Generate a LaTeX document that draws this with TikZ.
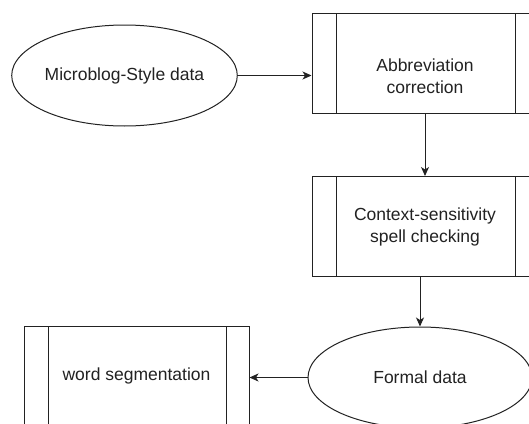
\documentclass[tikz,border=0pt]{standalone}
\usepackage{fontspec}
\setmainfont{Liberation Sans}
\usetikzlibrary{arrows.meta,shapes.geometric,calc}
\definecolor{ink}{HTML}{222222}
\tikzset{
  boxfont/.style={text=ink, font=\fontsize{17.5}{22}\selectfont, align=center},
  procbox/.style={draw=ink, line width=1pt, fill=white, minimum width=#1,
    minimum height=100pt, inner sep=0pt, boxfont,
    path picture={
      \draw[ink, line width=1pt]
        ([xshift=24pt]path picture bounding box.north west) --
        ([xshift=24pt]path picture bounding box.south west)
        ([xshift=-23pt]path picture bounding box.north east) --
        ([xshift=-23pt]path picture bounding box.south east);
    }},
  procbox/.default=226pt,
  dataoval/.style={draw=ink, line width=1pt, ellipse, fill=white,
    minimum width=225pt, minimum height=101pt, inner sep=0pt, boxfont},
  flow/.style={draw=ink, line width=1pt, -{Stealth[length=9pt, width=8pt, inset=2.5pt]}}
}
\begin{document}
\begin{tikzpicture}[x=1pt, y=-1pt]
  \clip (0,0) rectangle (529,423);
  \useasboundingbox (0,0) rectangle (529,423);

  % data inputs / outputs
  \node[dataoval] (raw) at (124.5,75.5) {Microblog-Style data};
  \node[dataoval, minimum width=224pt] (formal) at (420,377.5) {Formal data};

  % processing steps (the first one carries its caption a little low)
  \node[procbox, label={[boxfont, yshift=-13pt]center:{Abbreviation\\correction}}]
    (abbr) at (425,63) {};
  \node[procbox] (spell) at (425,226.5) {Context-sensitivity\\spell checking};
  \node[procbox=225pt] (seg) at (136.5,376) {word segmentation};

  % flow between the steps
  \draw[flow] (raw.east) -- (raw.east -| abbr.west);
  \draw[flow] (abbr.south) -- (spell.north);
  \draw[flow] (spell.south -| formal.north) -- (formal.north);
  \draw[flow] (formal.west) -- (formal.west -| seg.east);
\end{tikzpicture}
\end{document}
